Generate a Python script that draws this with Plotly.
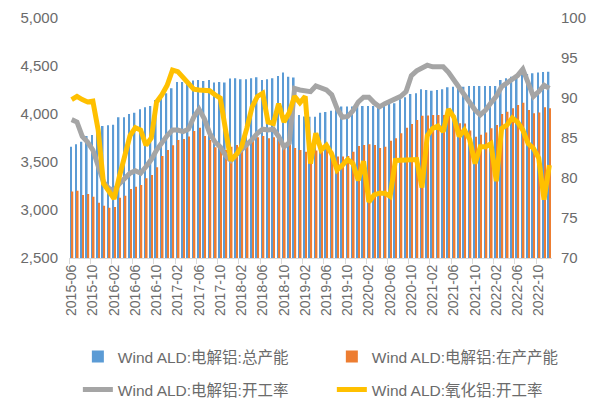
import plotly.graph_objects as go

# ---- data (monthly, 2015-06 .. 2022-12) ----
months = []
for y in range(2015, 2023):
    for m in range(1, 13):
        if (y == 2015 and m < 6):
            continue
        months.append(f"{y}-{m:02d}")

total_capacity = [
    3660, 3684, 3712, 3771, 3781, 3868, 3875, 3882, 3889, 3966,
    3966, 4000, 4014, 4049, 4070, 4084, 4146, 4181, 4215, 4267,
    4333, 4333, 4355, 4348, 4355, 4344, 4355, 4327, 4334, 4327,
    4370, 4372, 4362, 4362, 4372, 4383, 4355, 4362, 4372, 4396,
    4431, 4389, 4380, 3990, 3975, 3972, 3972, 4014, 4021, 4035,
    4049, 4077, 4077, 4077, 4084, 4084, 4084, 4084, 4084, 4084,
    4111, 4111, 4153, 4174, 4208, 4215, 4257, 4250, 4243, 4250,
    4257, 4278, 4285, 4278, 4285, 4292, 4292, 4292, 4292, 4292,
    4292, 4355, 4372, 4389, 4389, 4417, 4417, 4424, 4431, 4438,
    4441,
]

running_capacity = [
    3193, 3200, 3156, 3166, 3139, 3076, 3045, 3024, 3030, 3128,
    3149, 3219, 3243, 3260, 3330, 3365, 3445, 3563, 3625, 3674,
    3729, 3740, 3765, 3823, 3858, 3771, 3729, 3653, 3632, 3625,
    3660, 3677, 3694, 3712, 3747, 3757, 3771, 3747, 3757, 3747,
    3694, 3677, 3646, 3625, 3608, 3615, 3620, 3610, 3653, 3610,
    3556, 3556, 3563, 3608, 3667, 3677, 3684, 3677, 3646, 3660,
    3722, 3747, 3799, 3858, 3896, 3938, 3983, 3985, 3990, 3990,
    3990, 4000, 3990, 3903, 3900, 3827, 3764, 3785, 3806, 3851,
    3886, 4000, 4024, 4060, 4094, 4118, 4042, 4008, 4015, 4070,
    4060,
]

al_utilization = [
    87.3, 87.0, 85.2, 84.5, 83.5, 81.5, 79.5, 78.7, 78.4, 79.3,
    80.0, 80.6, 80.9, 80.6, 81.4, 82.3, 83.5, 84.5, 85.3, 86.0,
    86.0, 85.8, 86.1, 87.6, 88.6, 87.4, 85.6, 84.5, 83.9, 82.8,
    82.2, 82.9, 83.5, 84.1, 84.8, 85.6, 86.1, 86.0, 86.1, 85.2,
    83.9, 84.4, 91.2, 91.0, 90.9, 90.8, 91.5, 91.3, 91.0, 90.4,
    88.7, 87.6, 87.7, 88.4, 89.5, 90.1, 90.1, 89.4, 88.9, 89.3,
    89.6, 89.8, 90.2, 90.8, 92.8, 93.4, 93.7, 94.1, 93.9, 93.9,
    93.9, 93.2, 92.3, 91.3, 90.5, 89.4, 88.5, 87.9, 88.5, 89.4,
    90.2, 91.4, 91.9, 92.3, 92.8, 93.6, 91.9, 90.2, 90.8, 91.6,
    91.2,
]

alumina_utilization = [
    89.8, 90.2, 89.8, 89.5, 89.6, 86.0, 79.3, 78.3, 77.4, 80.2,
    83.1, 85.3, 86.3, 86.0, 84.1, 85.0, 89.5, 90.4, 91.6, 93.5,
    93.3, 92.6, 91.9, 91.1, 91.0, 90.9, 90.9, 90.4, 90.0, 86.0,
    82.2, 82.9, 83.9, 86.2, 88.9, 90.2, 90.6, 87.0, 86.8, 89.3,
    87.0, 88.2, 90.2, 89.4, 90.2, 81.8, 85.6, 83.5, 84.1, 83.0,
    81.0, 81.6, 82.3, 81.8, 79.7, 82.1, 77.0, 77.9, 78.1, 78.1,
    77.7, 82.2, 82.2, 82.2, 82.2, 82.3, 78.8, 85.3, 86.2, 86.5,
    85.8, 88.6, 87.6, 85.2, 86.0, 84.8, 81.8, 83.9, 83.9, 84.3,
    79.6, 86.2, 86.6, 87.5, 87.0, 86.0, 84.3, 83.7, 82.5, 77.3,
    81.6,
]

names = [
    "Wind ALD:电解铝:总产能",
    "Wind ALD:电解铝:在产产能",
    "Wind ALD:电解铝:开工率",
    "Wind ALD:氧化铝:开工率",
]

FONT = "Liberation Sans, Noto Sans CJK SC, sans-serif"
TXT = "#6b6b6b"

fig = go.Figure()
fig.add_trace(go.Bar(x=months, y=total_capacity, name=names[0],
                     marker=dict(color="#5B9BD5", line=dict(width=0)),
                     legend="legend", showlegend=True))
fig.add_trace(go.Bar(x=months, y=running_capacity, name=names[1],
                     marker=dict(color="#ED7D31", line=dict(width=0)),
                     legend="legend2", showlegend=True))
fig.add_trace(go.Scatter(x=months, y=al_utilization, name=names[2], yaxis="y2",
                         mode="lines", line=dict(color="#A5A5A5", width=5),
                         legend="legend3", showlegend=True))
fig.add_trace(go.Scatter(x=months, y=alumina_utilization, name=names[3], yaxis="y2",
                         mode="lines", line=dict(color="#FFC000", width=5),
                         legend="legend4", showlegend=True))

legend_common = dict(
    orientation="h", xref="container", yref="container",
    xanchor="left", yanchor="middle",
    font=dict(size=15.5, color=TXT, family=FONT),
    bgcolor="rgba(0,0,0,0)",
)

fig.update_layout(
    width=599, height=400,
    showlegend=True,
    margin=dict(l=69, r=47, t=18, b=142, autoexpand=False),
    paper_bgcolor="white", plot_bgcolor="white",
    font=dict(family=FONT, color=TXT),
    barmode="group", bargap=0.4, bargroupgap=0.0,
    xaxis=dict(
        type="category", categoryorder="array", categoryarray=months,
        range=[-0.5, len(months) - 0.5], automargin=False,
        tickmode="linear", tick0=0, dtick=4,
        tickangle=-90, tickfont=dict(size=14, color=TXT),
        ticks="outside", tickson="boundaries", ticklen=5, tickcolor="#D9D9D9",
        showline=True, linecolor="#D9D9D9", linewidth=1,
        showgrid=False, zeroline=False,
    ),
    yaxis=dict(
        range=[2500, 5000], tickmode="linear", tick0=2500, dtick=500,
        tickformat=",", tickfont=dict(size=15, color=TXT), automargin=False,
        showgrid=False, zeroline=False, showline=False, ticks="",
        ticklabelstandoff=10,
    ),
    yaxis2=dict(
        overlaying="y", side="right", automargin=False,
        range=[70, 100], tickmode="linear", tick0=70, dtick=5,
        tickfont=dict(size=15, color=TXT),
        showgrid=False, zeroline=False, showline=False, ticks="",
        ticklabelstandoff=8,
    ),
    legend=dict(legend_common, x=0.130, y=0.1075, visible=True),
    legend2=dict(legend_common, x=0.554, y=0.1075),
    legend3=dict(legend_common, x=0.130, y=0.025),
    legend4=dict(legend_common, x=0.554, y=0.025),
)

fig.write_html("out.html", post_script="document.body.style.margin='0';",
               config={"displayModeBar": False})
